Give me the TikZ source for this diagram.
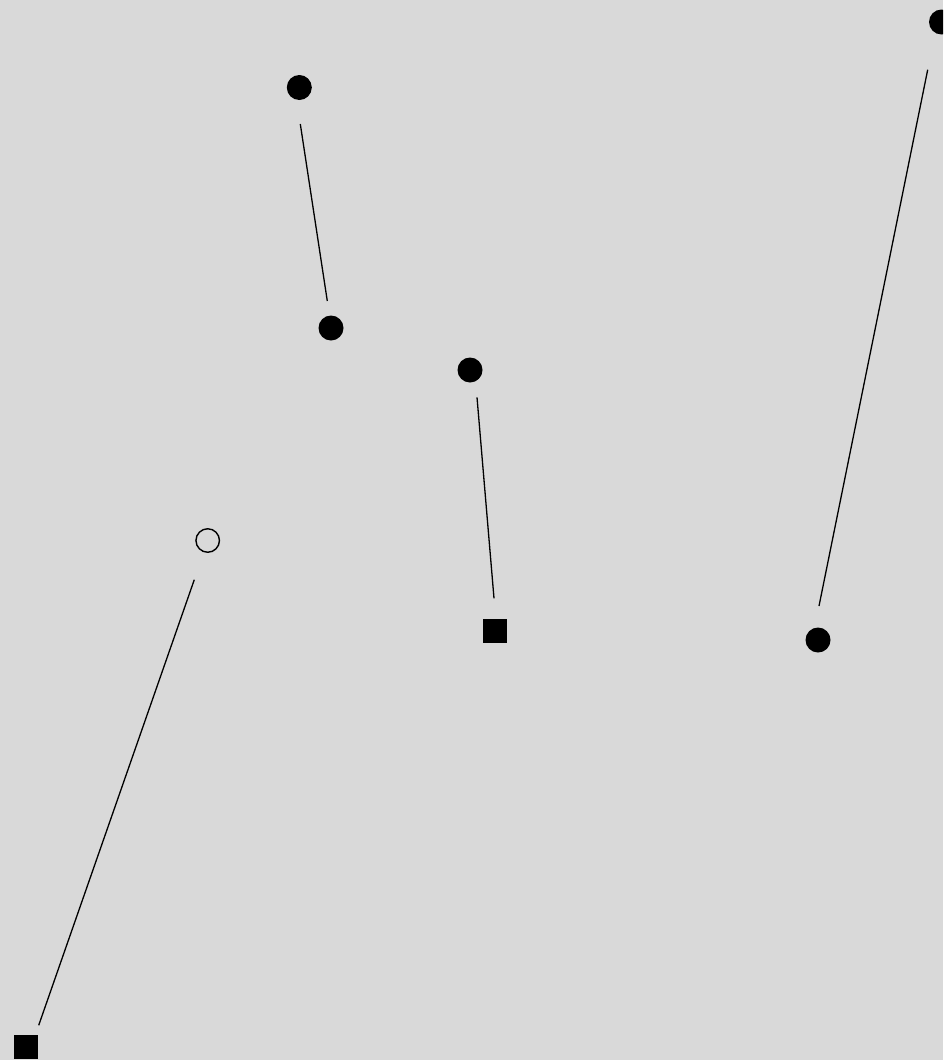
\documentclass[tikz,border=0pt]{standalone}
\usetikzlibrary{calc}
\definecolor{bg}{HTML}{D9D9D9}
\begin{document}
\begin{tikzpicture}[x=1pt,y=-1pt,
  dot/.style={circle,fill=black,inner sep=0pt,outer sep=0pt,minimum size=25pt},
  hollow/.style={circle,draw=black,line width=1.4pt,inner sep=0pt,outer sep=0pt,minimum size=23.5pt},
  sq/.style={rectangle,fill=black,inner sep=0pt,outer sep=0pt,minimum size=24pt},
  link/.style={draw=black,line width=1.3pt}]
\useasboundingbox[fill=bg] (0,0) rectangle (943,1060);
\clip (0,0) rectangle (943,1060);
\node[dot] (a) at (299.3,87.5) {};
\node[dot] (b) at (331,328) {};
\node[dot] (c) at (470,370) {};
\node[sq] (d) at (495,630.5) {};
\node[hollow] (e) at (207.7,540.5) {};
\node[sq] (f) at (26,1047) {};
\node[dot] (g) at (941.5,22) {};
\node[dot] (h) at (818,640) {};
\draw[link] ($(a)+(1,36.5)$) -- ($(b)+(-3.7,-27)$);
\draw[link] ($(c)+(7,27.3)$) -- ($(d)+(-1,-32.2)$);
\draw[link] ($(e)+(-13.4,39.2)$) -- ($(f)+(12.7,-21.7)$);
\draw[link] ($(g)+(-13.8,47.7)$) -- ($(h)+(1,-34)$);
\end{tikzpicture}
\end{document}
